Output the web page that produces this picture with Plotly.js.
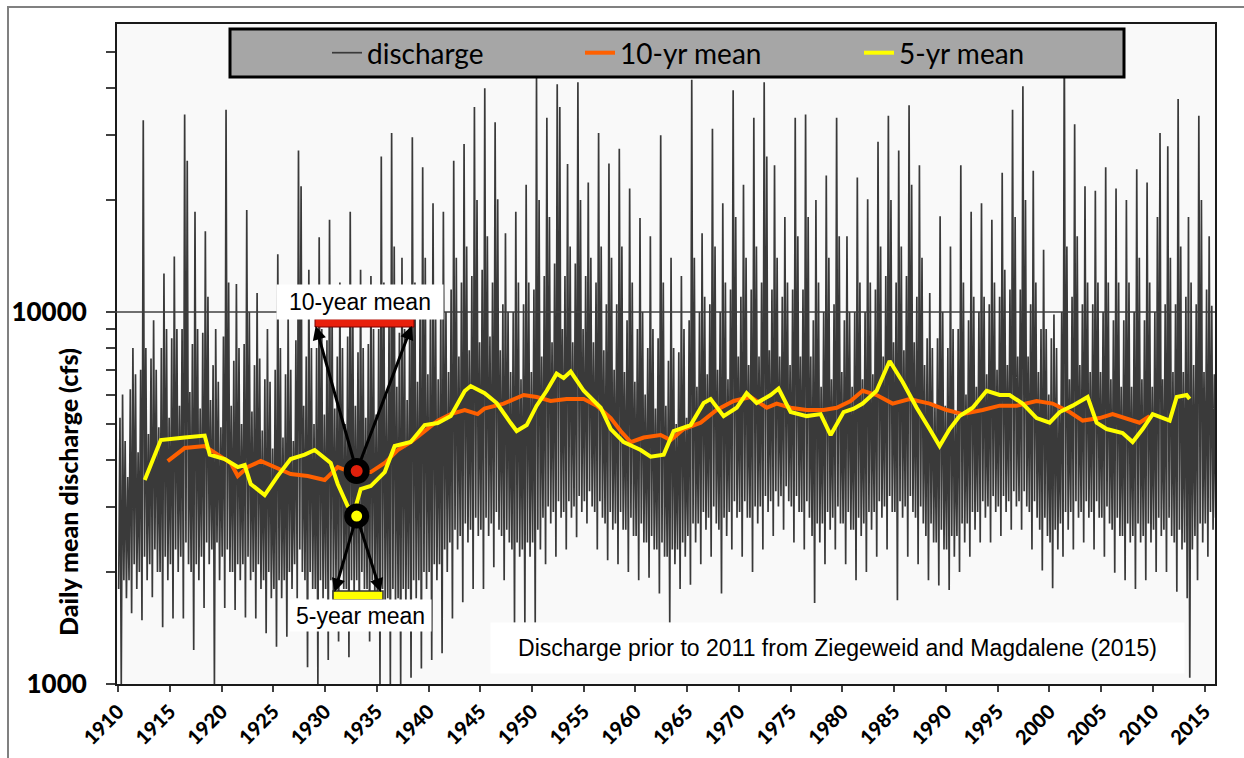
<!DOCTYPE html>
<html><head><meta charset="utf-8">
<script src="https://cdn.plot.ly/plotly-3.0.1.min.js"></script>
<style>html,body{margin:0;padding:0;background:#fff}#chart{width:1244px;height:758px}</style>
</head><body><div id="chart"></div>
<script>
// ---- daily discharge (cfs), 8 readings per year ----
const firstYear = 1910;
const samplesPerYear = 8;
const q1910s = [
1800,5200,1000,6000,1900,4500,1700,3600,
1900,6200,1550,8000,2100,6800,1800,4200,
2000,7000,1485,32800,2200,8000,1900,4700,
2100,7500,1710,9500,2300,7000,2000,4900,
2000,8000,1420,12700,2200,9000,1900,5200,
2100,8500,1500,14100,2300,9000,2000,5600,
2200,9000,1500,34000,2400,25500,2100,6100,
2000,8200,1235,18600,2100,9000,1900,5500,
2200,8800,1600,16500,2400,11000,2100,5800,
2300,7200,1000,9000,2400,6500,1900,4900];
const q1920s = [
2200,8600,1600,35000,2300,12000,2000,5600,
2000,7400,1580,11900,2100,8000,1900,5000,
2100,8200,1510,18800,2200,10000,1900,5400,
2000,7200,1500,11250,2100,7500,1800,4800,
1900,6600,1370,9000,2000,6500,1700,4300,
1800,7000,1260,14300,1900,8000,1700,4600,
1900,6800,1340,10000,2000,7000,1800,4500,
2100,8400,1700,27200,2300,21800,2000,5600,
1900,7600,1110,13000,2000,8000,1800,5000,
1800,8000,1000,15900,1900,9000,1700,5300];
const q1930s = [
1800,8400,1160,17700,1900,10000,1700,5500,
1900,7600,1300,12000,2000,8000,1800,5000,
1800,8600,1180,18600,1900,10000,1700,5600,
1900,7800,1400,13000,2000,8000,1800,5200,
1800,8200,1300,12500,1900,9000,1700,5300,
1700,9000,1000,26200,1800,12000,1600,6000,
1700,9600,1000,30300,1800,15000,1600,6300,
1700,8800,1000,14000,1800,9000,1600,5800,
1800,10000,1040,29500,1900,12000,1700,6500,
1900,10500,1100,24500,2000,14000,1800,6800];
const q1940s = [
2000,10000,1160,19600,2100,10000,1900,6600,
2100,10500,1210,18600,2300,10000,2000,6900,
2400,11500,1500,25500,2600,14000,2300,7600,
2500,12000,1660,28300,2700,15000,2400,7900,
2600,12500,1800,35600,2800,20000,2500,8300,
2600,13000,1800,40000,2800,16000,2500,8600,
2700,12000,2060,32400,2900,20100,2600,7900,
2500,10500,1900,16300,2600,10000,2400,6900,
2300,10000,1460,18600,2400,12000,2200,6600,
2300,10500,1460,22000,2400,12000,2200,6900];
const q1950s = [
2400,11500,1460,42700,2600,20000,2300,7600,
2800,12500,2100,33300,3000,18000,2700,8300,
2900,13500,2200,41000,3100,35600,2800,9000,
2900,12500,2300,25000,3100,15000,2800,8300,
3000,13500,2480,41500,3200,20000,2900,9000,
3100,12500,2700,22300,3300,14000,3000,8300,
2900,12000,2300,30300,3100,15000,2800,7900,
2700,10500,2150,25100,2900,14000,2600,7000,
2700,10500,2100,27500,2900,15000,2600,6900,
2600,9500,2000,21500,2800,12000,2500,6500];
const q1960s = [
2500,9000,1900,17900,2700,10000,2400,6000,
2400,8000,1930,16000,2500,9000,2300,5500,
2300,8500,1750,29900,2400,12000,2200,5600,
2200,7400,1460,14000,2300,8000,2100,5000,
2300,7800,1800,12500,2400,9000,2200,5200,
2500,9500,1850,42100,2700,14000,2400,6300,
2700,10000,2100,16300,2900,11000,2600,6800,
2800,10500,2200,31100,3000,15000,2700,7000,
2600,10000,1750,19600,2800,12000,2500,6600,
2900,11500,2300,39500,3100,18000,2800,7600];
const q1970s = [
2900,11000,2200,22000,3100,14000,2800,7200,
2800,11500,2000,33300,3000,15000,2700,7600,
3000,12000,2300,41500,3200,26200,2900,7900,
3100,11500,2500,24800,3300,14000,3000,7600,
3200,11000,2600,18000,3400,12000,3100,7200,
3000,11500,2400,33300,3200,16000,2900,7600,
2900,11500,2300,34000,3100,18000,2800,7600,
2500,9500,1650,20000,2700,12000,2400,6300,
2700,10000,2100,23300,2900,14000,2600,6600,
2800,10500,2300,33300,3000,16000,2700,6900];
const q1980s = [
2700,9500,2100,16000,2900,10000,2600,6300,
2600,10000,1900,23000,2800,12000,2500,6600,
2700,10000,2000,20100,2900,12000,2600,6800,
2900,11500,2200,28700,3100,15000,2800,7600,
3000,12500,2300,33700,3200,20000,2900,8300,
2900,12000,1680,27200,3100,15000,2800,7900,
3000,12500,2200,36000,3200,22000,2900,8300,
2800,11000,2100,24800,3000,14000,2700,7200,
2500,8500,1900,11250,2700,8000,2400,5600,
2400,8500,1840,18100,2600,10000,2300,5600];
const q1990s = [
2300,8000,1790,15000,2500,9000,2200,5300,
2500,9000,2000,24800,2700,12000,2400,6000,
2700,9500,2200,18600,2900,11000,2600,6300,
2900,10000,2400,19600,3100,11000,2800,6800,
3000,10500,2400,17700,3200,12000,2900,7000,
3000,11000,2500,23700,3200,13000,2900,7200,
3100,11500,2600,35000,3300,18000,3000,7600,
3100,11500,2600,40500,3300,20000,3000,7600,
2900,10500,2300,24000,3100,12000,2800,6900,
2600,9000,2020,14700,2800,9000,2500,6000];
const q2000s = [
2400,8500,1810,9850,2600,8000,2300,5600,
2700,10000,2200,58000,2900,15000,2600,6600,
2900,11000,2300,32000,3100,16000,2800,7200,
2900,10500,2400,21800,3100,12000,2800,6900,
2900,10500,2300,21200,3100,12000,2800,6900,
2800,10000,2200,24500,3000,12000,2700,6600,
2600,9500,1990,21500,2800,12000,2500,6300,
2500,9500,1900,20000,2700,12000,2400,6300,
2500,10000,1800,24200,2700,14000,2400,6600,
2500,9500,1900,22300,2700,12000,2400,6300];
const q2010s = [
2600,10000,2000,18000,2800,30300,2500,6600,
2600,10500,2000,27900,2800,14000,2500,6900,
2400,10500,1770,37400,2600,15000,2300,6900,
2400,11000,1700,18000,1040,12000,2300,7200,
2500,10500,1900,33700,2700,20000,2400,6900,
2700,11500,2200,16000,2900,10400,2600,6800,
2800,9000,2400,8000,3000,7000,2700,6000];

// ---- 5-year moving mean (cfs) ----
const ma5Years = [1912.58,1914.13,1916.44,1918.37,1918.86,1920.31,1921.57,1922.24,1922.82,1924.17,1925.42,1926.68,1928.04,1929.0,1930.55,1931.23,1932.19,1932.87,1933.45,1934.42,1935.77,1936.73,1938.28,1939.63,1940.89,1942.15,1943.5,1944.08,1945.43,1946.59,1947.94,1948.52,1949.49,1950.45,1951.42,1952.38,1953.06,1953.74,1955.0,1956.64,1957.61,1958.86,1960.5,1961.47,1962.73,1963.69,1965.33,1966.59,1967.26,1968.52,1969.78,1970.74,1971.71,1973.06,1973.83,1974.99,1976.54,1977.89,1978.86,1980.11,1981.08,1981.95,1983.3,1984.56,1985.82,1987.17,1988.42,1989.39,1990.36,1991.32,1992.58,1993.93,1995.19,1996.15,1997.41,1998.76,2000.02,2000.99,2002.24,2003.69,2004.56,2005.53,2007.07,2008.04,2009.01,2009.98,2011.62,2012.3,2013.26,2013.55];
const ma5Values = [3535,4528,4599,4656,4137,4025,3831,3879,3449,3222,3623,4025,4137,4256,3927,3449,3009,2935,3344,3406,3714,4363,4472,4968,5030,5252,6133,6325,6050,5693,5030,4787,4968,5602,6144,6830,6645,6918,6144,5530,4847,4472,4256,4083,4137,4787,4968,5693,5837,5252,5530,6058,5693,5984,6228,5385,5252,5318,4670,5385,5500,5675,6144,7385,6483,5530,4847,4363,4847,5252,5530,6144,5984,5984,5675,5188,5042,5385,5602,5910,5042,4847,4728,4472,4847,5318,5108,5910,5984,5837];

// ---- 10-year moving mean (cfs) ----
const ma10Years = [1914.8,1916.44,1918.37,1919.63,1920.89,1921.57,1922.54,1923.79,1925.14,1926.68,1928.33,1929.97,1931.23,1932.48,1934.42,1935.77,1937.03,1938.28,1939.63,1940.89,1942.15,1943.5,1944.75,1945.4,1947.27,1949.2,1950.45,1951.8,1953.35,1955.0,1956.25,1957.61,1958.57,1959.54,1960.79,1962.43,1963.4,1964.66,1966.3,1967.84,1969.49,1971.13,1972.68,1973.64,1974.99,1976.54,1978.18,1979.44,1980.79,1981.95,1983.3,1984.85,1986.49,1988.42,1990.07,1991.61,1993.55,1995.19,1996.83,1998.76,2000.31,2001.96,2003.21,2004.85,2006.1,2007.46,2008.71,2009.68];
const ma10Values = [3976,4309,4363,4137,3927,3623,3831,3976,3831,3668,3623,3535,3831,3714,3714,3927,4256,4472,4787,5108,5318,5452,5318,5500,5675,5984,5910,5766,5837,5837,5602,5188,4787,4472,4599,4670,4528,4847,5042,5452,5766,5910,5530,5675,5530,5452,5452,5530,5766,6144,5984,5675,5837,5675,5452,5318,5452,5602,5602,5766,5675,5385,5108,5188,5318,5188,5042,5252];

// ---- callout points (year, cfs) ----
const calloutYear = 1933.06;
const calloutTenYr = 3737;
const calloutFiveYr = 2829;

// ---- ticks ----
const xTickYears = [1910,1915,1920,1925,1930,1935,1940,1945,1950,1955,1960,1965,1970,1975,1980,1985,1990,1995,2000,2005,2010,2015];
const yTickVals = [1000,2000,3000,4000,5000,6000,7000,8000,9000,10000,20000,30000,40000,50000];
const yTickText = ['1000','','','','','','','','','10000','','','',''];

const discharge = [].concat(q1910s,q1920s,q1930s,q1940s,q1950s,q1960s,q1970s,q1980s,q1990s,q2000s,q2010s);
const dischargeYears = discharge.map((v,i)=> firstYear + (i+0.5)/samplesPerYear);

// pixel helpers for decorations (plot area: x 117..1215, y 24..684)
const PL=117, PW=1098, PB=684, PH=660;
const px = x => (x-PL)/PW;
const py = y => (PB-y)/PH;
const yMaxLog = 4.7745;

const traces = [
 {x: dischargeYears, y: discharge, type:'scatter', mode:'lines', name:'discharge',
  line:{color:'#3a3a3a', width:1.7}, legend:'legend', hoverinfo:'skip'},
 {x: ma10Years, y: ma10Values, type:'scatter', mode:'lines', name:'10-yr mean',
  line:{color:'#ff6000', width:4}, legend:'legend2'},
 {x: ma5Years, y: ma5Values, type:'scatter', mode:'lines', name:'5-yr mean',
  line:{color:'#ffff00', width:4}, legend:'legend3'},
 {x:[calloutYear], y:[calloutTenYr], type:'scatter', mode:'markers', showlegend:false,
  marker:{size:19, color:'#e0200c', line:{color:'#000', width:7}}},
 {x:[calloutYear], y:[calloutFiveYr], type:'scatter', mode:'markers', showlegend:false,
  marker:{size:18, color:'#ffff00', line:{color:'#000', width:7}}}
];

const legendBase = {orientation:'h', yanchor:'middle', y:py(53), xanchor:'left',
  bgcolor:'rgba(0,0,0,0)', borderwidth:0, font:{family:'Lato', size:28, color:'#000'}};

const arrow = (hx,hy,tx,ty,so) => ({x:hx, y:hy, ax:tx, ay:ty, xref:'x', yref:'y', axref:'x', ayref:'y',
  showarrow:true, arrowhead:2, arrowsize:0.9, arrowwidth:3, arrowcolor:'#000', startstandoff:so, text:''});

const box = (txt, cx, cy, w, h, size) => ({text:txt, xref:'paper', yref:'paper', x:px(cx), y:py(cy),
  xanchor:'center', yanchor:'middle', showarrow:false, bgcolor:'#ffffff', width:w, height:h,
  font:{family:'Liberation Sans', size:size, color:'#000'}});

const layout = {
 width:1244, height:758,
 margin:{l:117, r:29, t:24, b:74},
 paper_bgcolor:'#ffffff', plot_bgcolor:'#f9f9f9',
 font:{family:'Lato', color:'#000'},
 xaxis:{range:[1909.9,2016.0], tickvals:xTickYears, ticktext:xTickYears.map(String), tickangle:-45,
   ticks:'outside', ticklen:6, tickwidth:2, tickcolor:'#404040',
   showline:true, linecolor:'#1a1a1a', linewidth:2, mirror:true, showgrid:false, zeroline:false,
   tickfont:{family:'Lato', size:20, color:'#000', weight:900}},
 yaxis:{type:'log', range:[3, yMaxLog], tickvals:yTickVals, ticktext:yTickText,
   ticks:'outside', ticklen:9, tickwidth:2, tickcolor:'#404040', ticklabelstandoff:14,
   showline:true, linecolor:'#1a1a1a', linewidth:2, mirror:true, showgrid:false, zeroline:false,
   tickfont:{family:'Lato', size:26, color:'#000', weight:900}},
 legend: Object.assign({}, legendBase, {x:px(327)}),
 legend2: Object.assign({}, legendBase, {x:px(580)}),
 legend3: Object.assign({}, legendBase, {x:px(859)}),
 shapes:[
  {type:'rect', xref:'paper', yref:'paper', x0:px(8), x1:px(1260), y0:py(7), y1:py(780),
   line:{color:'#808080', width:2}, fillcolor:'rgba(0,0,0,0)', layer:'below'},
  {type:'line', xref:'paper', yref:'paper', x0:px(107), x1:1, y0:(4-3)/(yMaxLog-3), y1:(4-3)/(yMaxLog-3),
   line:{color:'#404040', width:1.5}, layer:'above'},
  {type:'rect', xref:'paper', yref:'paper', x0:px(230), x1:px(1124), y0:py(77), y1:py(29),
   fillcolor:'#a6a6a6', line:{color:'#000', width:3}, layer:'above'},
  {type:'rect', xref:'paper', yref:'paper', x0:px(315), x1:px(414), y0:py(327), y1:py(319),
   fillcolor:'#e8200c', line:{color:'#7a0000', width:1}, layer:'above'},
  {type:'rect', xref:'paper', yref:'paper', x0:px(333), x1:px(383), y0:py(600), y1:py(591),
   fillcolor:'#ffff00', line:{color:'#333', width:1.5}, layer:'above'}
 ],
 annotations:[
  {text:'Daily mean discharge (cfs)', xref:'paper', yref:'paper', x:px(68), y:py(492),
   xanchor:'center', yanchor:'middle', textangle:-90, showarrow:false,
   font:{family:'Lato', size:25, color:'#000', weight:900}},
  box('10-year mean', 360, 302, 164, 32, 23),
  box('5-year mean', 360, 615, 139, 29, 23),
  box('Discharge prior to 2011 from Ziegeweid and Magdalene (2015)', 837, 648, 691, 48, 23),
  arrow(1929.1, 3.9624, calloutYear, Math.log10(calloutTenYr), 11),
  arrow(1938.37, 3.9624, calloutYear, Math.log10(calloutTenYr), 11),
  arrow(1930.93, 3.2473, calloutYear, Math.log10(calloutFiveYr), 10),
  arrow(1935.38, 3.2473, calloutYear, Math.log10(calloutFiveYr), 10)
 ]
};

Plotly.newPlot('chart', traces, layout, {displayModeBar:false, staticPlot:true});
</script></body></html>
